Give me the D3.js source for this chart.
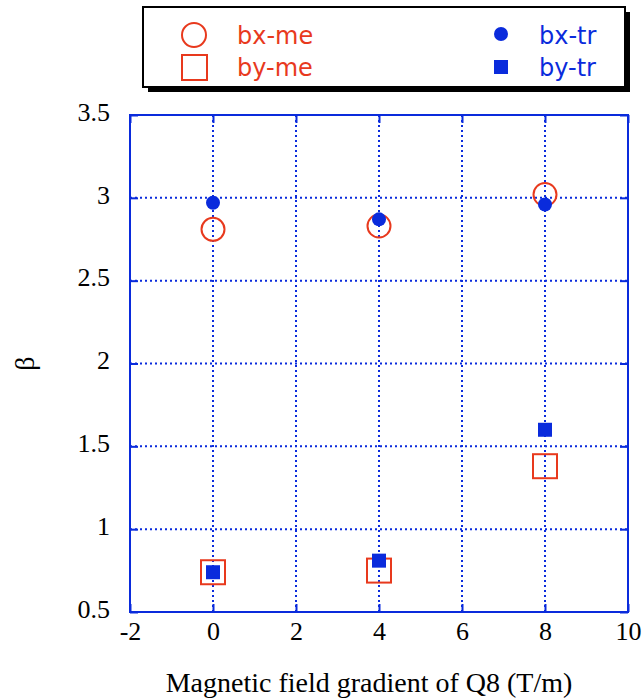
<!DOCTYPE html>
<meta charset="utf-8">
<style>
  body { margin: 0; background: #fff; }
  .tick text { font-family: "Liberation Serif", "Times New Roman", serif; font-size: 26px; fill: #000; }
  .legend text { font-family: "DejaVu Sans", Verdana, sans-serif; font-size: 24px; }
</style>
<body>
<script src="https://cdnjs.cloudflare.com/ajax/libs/d3/7.8.5/d3.min.js"></script>
<script>

var xTicks = [-2, 0, 2, 4, 6, 8, 10];
var yTicks = [0.5, 1, 1.5, 2, 2.5, 3, 3.5];

var gradient = [0, 4, 8];
var bxMe = [2.81, 2.83, 3.02];
var byMe = [0.74, 0.75, 1.38];
var bxTr = [2.97, 2.87, 2.96];
var byTr = [0.74, 0.81, 1.60];

var red = "#e8391d", blue = "#0a2bdc";

var W = 643, H = 698;
var margin = {top: 115, right: 15, bottom: 86, left: 130};
var w = W - margin.left - margin.right,
    h = H - margin.top - margin.bottom;

var svg = d3.select("body").append("svg")
    .attr("width", W)
    .attr("height", H);

var chart = svg.append("g")
    .attr("transform", "translate(" + margin.left + "," + margin.top + ")");

var x = d3.scaleLinear().domain([-2, 10]).range([0, w]);
var y = d3.scaleLinear().domain([0.5, 3.5]).range([h, 0]);

// dotted grid
chart.append("g").selectAll("line.gx")
    .data(xTicks.slice(1, -1))
    .enter().append("line")
    .attr("x1", function(d) { return x(d); })
    .attr("x2", function(d) { return x(d); })
    .attr("y1", 0).attr("y2", h)
    .attr("stroke", blue).attr("stroke-width", 2).attr("stroke-dasharray", "2,3");

chart.append("g").selectAll("line.gy")
    .data(yTicks.slice(1, -1))
    .enter().append("line")
    .attr("y1", function(d) { return y(d); })
    .attr("y2", function(d) { return y(d); })
    .attr("x1", 0).attr("x2", w)
    .attr("stroke", blue).attr("stroke-width", 2).attr("stroke-dasharray", "2,3");

// axes with inward ticks
function styleAxis(g) {
  g.select(".domain").remove();
  g.selectAll(".tick line").attr("stroke", blue).attr("stroke-width", 2);
}

chart.append("g")
    .attr("transform", "translate(0," + h + ")")
    .call(d3.axisBottom(x).tickValues(xTicks).tickFormat(function(d) { return String(d); }).tickSizeInner(-8).tickPadding(10))
    .call(styleAxis);

chart.append("g")
    .call(d3.axisLeft(y).tickValues(yTicks).tickFormat(function(d) { return String(d); }).tickSizeInner(-8).tickPadding(20))
    .call(styleAxis)
    .selectAll("text").attr("dy", "0.2em");

chart.append("g")
    .attr("transform", "translate(" + w + ",0)")
    .call(d3.axisRight(y).tickValues(yTicks).tickFormat("").tickSizeInner(-8))
    .call(styleAxis);

chart.append("g")
    .call(d3.axisTop(x).tickValues(xTicks).tickFormat("").tickSizeInner(-8))
    .call(styleAxis);

chart.selectAll(".tick text").attr("fill", "#000");

// frame
chart.append("rect")
    .attr("width", w).attr("height", h)
    .attr("fill", "none").attr("stroke", blue).attr("stroke-width", 2);

// marks
var pts = function(vals) { return vals.map(function(v, i) { return {x: gradient[i], y: v}; }); };

chart.selectAll("circle.bxme").data(pts(bxMe)).enter().append("circle")
    .attr("cx", function(d) { return x(d.x); })
    .attr("cy", function(d) { return y(d.y); })
    .attr("r", 11.5)
    .attr("fill", "none").attr("stroke", red).attr("stroke-width", 2);

chart.selectAll("rect.byme").data(pts(byMe)).enter().append("rect")
    .attr("x", function(d) { return x(d.x) - 12; })
    .attr("y", function(d) { return y(d.y) - 12; })
    .attr("width", 24).attr("height", 24)
    .attr("fill", "none").attr("stroke", red).attr("stroke-width", 2);

chart.selectAll("circle.bxtr").data(pts(bxTr)).enter().append("circle")
    .attr("cx", function(d) { return x(d.x); })
    .attr("cy", function(d) { return y(d.y); })
    .attr("r", 7)
    .attr("fill", blue);

chart.selectAll("rect.bytr").data(pts(byTr)).enter().append("rect")
    .attr("x", function(d) { return x(d.x) - 7; })
    .attr("y", function(d) { return y(d.y) - 7; })
    .attr("width", 14).attr("height", 14)
    .attr("fill", blue);

// axis titles
svg.append("text")
    .attr("x", margin.left + w / 2 - 10).attr("y", 692)
    .attr("text-anchor", "middle")
    .style("font-family", "Liberation Serif, Times New Roman, serif")
    .style("font-size", "28px")
    .text("Magnetic field gradient of Q8 (T/m)");

svg.append("text")
    .attr("transform", "translate(34," + (margin.top + h / 2) + ") rotate(-90)")
    .attr("text-anchor", "middle")
    .style("font-family", "Liberation Serif, Times New Roman, serif")
    .style("font-size", "28px")
    .text("β");

// legend
var lg = svg.append("g").attr("class", "legend");
lg.append("rect").attr("x", 148).attr("y", 12).attr("width", 482).attr("height", 80).attr("fill", "#000");
lg.append("rect").attr("x", 143).attr("y", 7).attr("width", 482).attr("height", 80)
    .attr("fill", "#fff").attr("stroke", "#000").attr("stroke-width", 2);

lg.append("circle").attr("cx", 194).attr("cy", 35).attr("r", 12)
    .attr("fill", "none").attr("stroke", red).attr("stroke-width", 2);
lg.append("rect").attr("x", 182).attr("y", 55).attr("width", 25).attr("height", 25)
    .attr("fill", "none").attr("stroke", red).attr("stroke-width", 2);
lg.append("text").attr("x", 237).attr("y", 44).attr("fill", red).text("bx-me");
lg.append("text").attr("x", 237).attr("y", 76).attr("fill", red).text("by-me");

lg.append("circle").attr("cx", 501).attr("cy", 34).attr("r", 7).attr("fill", blue);
lg.append("rect").attr("x", 494).attr("y", 60).attr("width", 14).attr("height", 14).attr("fill", blue);
lg.append("text").attr("x", 539).attr("y", 44).attr("fill", blue).text("bx-tr");
lg.append("text").attr("x", 539).attr("y", 76).attr("fill", blue).text("by-tr");

</script>
</body>
